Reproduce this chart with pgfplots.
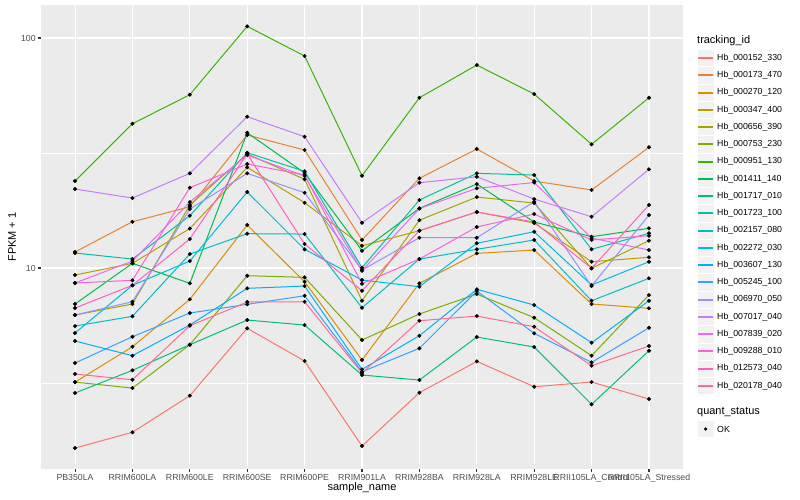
\documentclass[border=0pt]{standalone}
\usepackage{fontspec}
\setmainfont{Liberation Sans}
\usepackage{pgfplots}
\usepackage{pgfplotstable}
\pgfplotsset{compat=1.18}

\definecolor{panel}{HTML}{EBEBEB}
\definecolor{keyfill}{HTML}{F2F2F2}
\definecolor{tickgray}{HTML}{333333}
\definecolor{labelgray}{HTML}{4D4D4D}
\definecolor{c152}{HTML}{F8766D}
\definecolor{c173}{HTML}{EA8331}
\definecolor{c270}{HTML}{D89000}
\definecolor{c347}{HTML}{C09B00}
\definecolor{c656}{HTML}{A3A500}
\definecolor{c753}{HTML}{7CAE00}
\definecolor{c951}{HTML}{39B600}
\definecolor{c1411}{HTML}{00BB4E}
\definecolor{c1717}{HTML}{00BF7D}
\definecolor{c1723}{HTML}{00C1A3}
\definecolor{c2157}{HTML}{00BFC4}
\definecolor{c2272}{HTML}{00BAE0}
\definecolor{c3607}{HTML}{00B0F6}
\definecolor{c5245}{HTML}{35A2FF}
\definecolor{c6970}{HTML}{9590FF}
\definecolor{c7017}{HTML}{C77CFF}
\definecolor{c7839}{HTML}{E76BF3}
\definecolor{c9288}{HTML}{FA62DB}
\definecolor{c12573}{HTML}{FF62BC}
\definecolor{c20178}{HTML}{FF6C91}

% FPKM + 1 per sample (x = sample index), one column per tracking_id
\pgfplotstableread{
x  s152  s173  s270  s347  s656  s753  s951  s1411 s1717 s1723 s2157 s2272 s3607 s5245 s6970 s7017 s7839 s9288 s12573 s20178
0  1.650 11.74 3.19  9.323 6.248 3.19  23.89 6.975 2.861 11.62 5.594 5.216 4.815 3.864 6.248 22.05 8.606 8.606 6.700  3.460
1  1.931 15.89 4.548 10.48 6.975 3.008 42.41 10.48 3.591 10.94 6.166 8.410 4.157 5.026 7.137 20.15 10.72 8.841 8.410  3.268
2  2.785 18.47 7.310 14.85 18.79 4.640 56.68 8.58  4.640 16.88 11.50 10.72 5.651 6.373 18.05 25.80 19.36 22.34 13.37  5.612
3  5.468 37.87 15.38 27.40 31.31 9.26  112.4 38.75 5.941 31.71 14.10 21.40 8.160 6.954 25.80 45.49 30.99 28.33 31.31  7.116
4  3.942 32.59 8.717 19.22 24.31 9.11  83.50 25.88 5.651 26.33 14.05 12.06 8.350 7.577 21.25 37.23 25.12 25.37 12.72  7.137
5  1.683 13.24 3.981 12.50 7.208 4.864 25.19 11.89 3.426 10.03 6.720 8.867 3.627 3.541 9.802 15.74 9.733 8.545 7.966  3.495
6  2.870 24.55 8.580 14.53 16.14 6.310 55.0  18.18 3.258 19.75 10.94 8.293 5.077 4.476 13.54 23.49 18.14 10.94 14.53  5.900
7  3.929 32.92 11.58 17.52 20.35 7.709 76.30 23.18 5.012 25.80 12.06 12.81 8.080 7.943 13.54 24.94 22.21 15.08 17.52  6.183
8  3.047 23.89 11.97 15.69 19.16 6.080 57.08 15.85 4.534 25.37 13.24 14.38 6.905 5.200 19.42 19.95 23.53 17.17 15.85  5.556
9  3.194 21.84 6.975 10.65 9.97  4.157 34.50 13.68 2.555 12.06 7.208 8.435 4.734 3.890 8.350 16.71 13.50 13.24 9.97   3.760
10 2.694 33.49 6.680 11.13 13.15 7.630 55.0  14.88 4.369 14.16 9.020 10.65 7.208 5.500 17.00 26.86 11.97 13.82 18.79  4.580
}\fpkm

\begin{document}
\begin{tikzpicture}
\useasboundingbox (0,0) rectangle (800bp,500bp);
\begin{axis}[
    at={(40.6bp,30.9bp)}, anchor=south west,
    scale only axis,
    width=642.8bp, height=463.9bp,
    xmin=-0.6, xmax=10.6,
    ymode=log, ymin=1.336, ymax=138.9,
    axis background/.style={fill=panel},
    axis line style={draw=none},
    xtick pos=left, ytick pos=left,
    xtick={0,...,10},
    xticklabels={PB350LA, RRIM600LA, RRIM600LE, RRIM600SE, RRIM600PE, RRIM901LA,
        RRIM928BA, RRIM928LA, RRIM928LE, RRII105LA\_Control, RRII105LA\_Stressed},
    ytick={10,100}, yticklabels={10,100},
    minor ytick={3.16228,31.6228},
    minor xtick={},
    grid=both,
    major grid style={white, line width=1.07bp},
    minor grid style={white, line width=0.53bp},
    tick align=outside,
    major tick length=2.75bp, minor tick length=0pt,
    tick style={color=tickgray, line width=1.07bp},
    ticklabel style={font=\fontsize{8.8}{10}\selectfont, text=labelgray, inner sep=2bp},
    no markers,
]
\pgfplotsinvokeforeach{152,173,270,347,656,753,951,1411,1717,1723,2157,2272,3607,5245,6970,7017,7839,9288,12573,20178}{
  \addplot[color=c#1, line width=1bp] table[x=x, y=s#1] {\fpkm};
}
\pgfplotsinvokeforeach{152,173,270,347,656,753,951,1411,1717,1723,2157,2272,3607,5245,6970,7017,7839,9288,12573,20178}{
  \addplot[only marks, mark=*, mark size=1.8bp, black] table[x=x, y=s#1] {\fpkm};
}
\end{axis}

% axis titles
\node[font=\fontsize{11}{13}\selectfont] at (362bp,12bp) {sample\_name};
\node[font=\fontsize{11}{13}\selectfont, rotate=90] at (12bp,263bp) {FPKM + 1};

% legend: tracking_id
\node[anchor=west, font=\fontsize{11}{13}\selectfont, inner sep=0pt] at (697bp,459.3bp) {tracking\_id};
\foreach \cid/\lab [count=\i from 0] in {152/Hb\_000152\_330, 173/Hb\_000173\_470, 270/Hb\_000270\_120,
    347/Hb\_000347\_400, 656/Hb\_000656\_390, 753/Hb\_000753\_230, 951/Hb\_000951\_130,
    1411/Hb\_001411\_140, 1717/Hb\_001717\_010, 1723/Hb\_001723\_100, 2157/Hb\_002157\_080,
    2272/Hb\_002272\_030, 3607/Hb\_003607\_130, 5245/Hb\_005245\_100, 6970/Hb\_006970\_050,
    7017/Hb\_007017\_040, 7839/Hb\_007839\_020, 9288/Hb\_009288\_010, 12573/Hb\_012573\_040,
    20178/Hb\_020178\_040}{
  \pgfmathsetmacro{\yy}{442-17.26*\i}
  \pgfmathsetmacro{\yk}{round(\yy)}
  \edef\keycol{c\cid}
  \filldraw[fill=keyfill, draw=white, line width=0.5bp] (697bp,\yy bp-8.63bp) rectangle (714.3bp,\yy bp+8.63bp);
  \fill[color=\keycol] (698bp,\yk bp-1bp) rectangle (713bp,\yk bp+1bp);
  \node[anchor=west, font=\fontsize{8.8}{10}\selectfont, inner sep=0pt] at (717bp,\yy bp) {\lab};
}

% legend: quant_status
\node[anchor=west, font=\fontsize{11}{13}\selectfont, inner sep=0pt] at (697bp,88bp) {quant\_status};
\filldraw[fill=keyfill, draw=white, line width=0.5bp] (697bp,62.4bp) rectangle (714.3bp,79.6bp);
\fill[black] (705.65bp,71bp) circle (1.8bp);
\node[anchor=west, font=\fontsize{8.8}{10}\selectfont, inner sep=0pt] at (717bp,71bp) {OK};
\end{tikzpicture}
\end{document}
